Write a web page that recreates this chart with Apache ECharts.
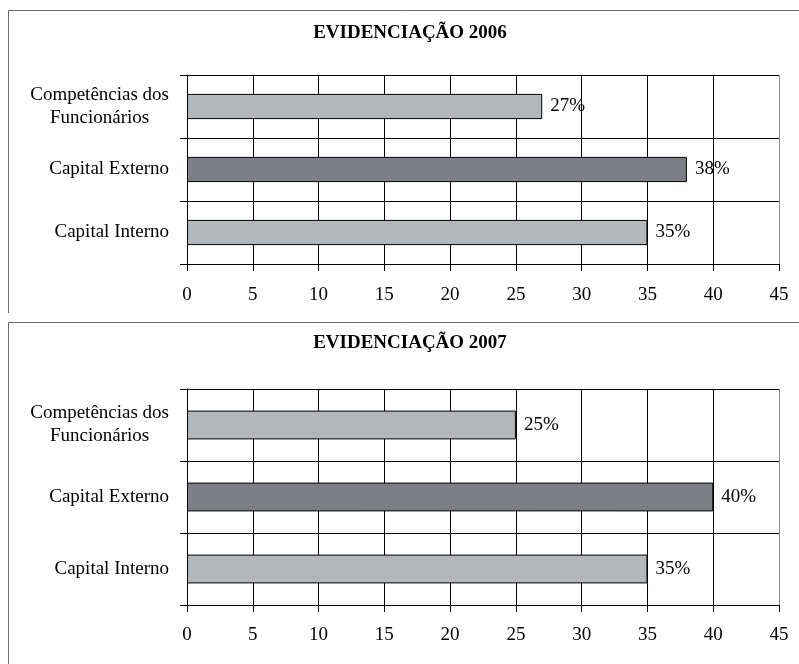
<!DOCTYPE html>
<html>
<head>
<meta charset="utf-8">
<style>
  html, body { margin: 0; padding: 0; background: #fff; }
  #chart { width: 799px; height: 664px; }
</style>
<script src="https://cdn.jsdelivr.net/npm/echarts@6/dist/echarts.min.js"></script>
</head>
<body>
<div id="chart"></div>
<script>
// Categories listed bottom to top, as the category axis stacks them
const categories = ['Capital Interno', 'Capital Externo', 'Competências dos\nFuncionários'];
const values2006 = [35, 38, 27];
const values2007 = [35, 40, 25];
const titles = ['EVIDENCIAÇÃO 2006', 'EVIDENCIAÇÃO 2007'];
const xMin = 0, xMax = 45, xStep = 5;

const FONT = '"Liberation Serif", "Times New Roman", serif';
const FS = 19;
const LIGHT = '#b4b7ba';
const DARK = '#7e7f84';

const chart = echarts.init(document.getElementById('chart'), null, { renderer: 'canvas' });

// Plot grid lines are black, the far right edge of the plot is grey
const splitColors = [];
for (let v = xMin; v <= xMax; v += xStep) splitColors.push(v === xMax ? '#8c8c8c' : '#000');

const grids = [
  { left: 187, right: 20, top: 75, height: 189 },
  { left: 187, right: 20, top: 389, height: 216 }
];
const labelMargins = [22, 21];
const titleTops = [24, 334];

function xAxisFor(i) {
  return {
    type: 'value', gridIndex: i, min: xMin, max: xMax, interval: xStep,
    axisLine: { show: true, lineStyle: { color: '#000', width: 1 } },
    axisTick: { show: true, length: 7, lineStyle: { color: '#000' } },
    axisLabel: { color: '#000', fontFamily: FONT, fontSize: FS, margin: labelMargins[i] },
    splitLine: { show: true, lineStyle: { color: splitColors, width: 1 } }
  };
}

function yAxisFor(i) {
  return {
    type: 'category', gridIndex: i, data: categories,
    axisLine: { show: true, lineStyle: { color: '#000', width: 1 } },
    axisTick: { show: true, length: 7, lineStyle: { color: '#000' } },
    splitLine: { show: true, lineStyle: { color: '#000', width: 1 } },
    axisLabel: {
      color: '#000', margin: 18, align: 'right',
      formatter: v => v.split('\n').map(s => '{c|' + s + '}').join('\n'),
      rich: { c: { align: 'center', fontFamily: FONT, fontSize: FS, lineHeight: 23, color: '#000' } }
    }
  };
}

function barSeries(i, values) {
  return {
    type: 'bar', xAxisIndex: i, yAxisIndex: i,
    data: values,
    barCategoryGap: '60%',
    itemStyle: {
      color: p => (p.dataIndex === 1 ? DARK : LIGHT),
      borderColor: '#000', borderWidth: 1
    },
    label: {
      show: true, position: 'right', distance: 8,
      formatter: p => p.value + '%',
      color: '#000', fontFamily: FONT, fontSize: FS
    },
    silent: true
  };
}

const option = {
  backgroundColor: '#fff',
  animation: false,
  title: titles.map((t, i) => ({
    text: t, left: 410, top: titleTops[i], textAlign: 'center', padding: 0,
    textStyle: { fontFamily: FONT, fontWeight: 'bold', fontSize: FS, color: '#000' }
  })),
  grid: grids,
  xAxis: [xAxisFor(0), xAxisFor(1)],
  yAxis: [yAxisFor(0), yAxisFor(1)],
  series: [barSeries(0, values2006), barSeries(1, values2007)],
  graphic: [
    // frame of the upper panel
    { type: 'line', shape: { x1: 8.5, y1: 10.5, x2: 799, y2: 10.5 }, style: { stroke: '#6e6e6e', lineWidth: 1 } },
    { type: 'line', shape: { x1: 8.5, y1: 10.5, x2: 8.5, y2: 313 }, style: { stroke: '#6e6e6e', lineWidth: 1 } },
    // frame of the lower panel
    { type: 'line', shape: { x1: 8.5, y1: 322.5, x2: 799, y2: 322.5 }, style: { stroke: '#6e6e6e', lineWidth: 1 } },
    { type: 'line', shape: { x1: 8.5, y1: 322.5, x2: 8.5, y2: 664 }, style: { stroke: '#6e6e6e', lineWidth: 1 } }
  ]
};

chart.setOption(option);
</script>
</body>
</html>
